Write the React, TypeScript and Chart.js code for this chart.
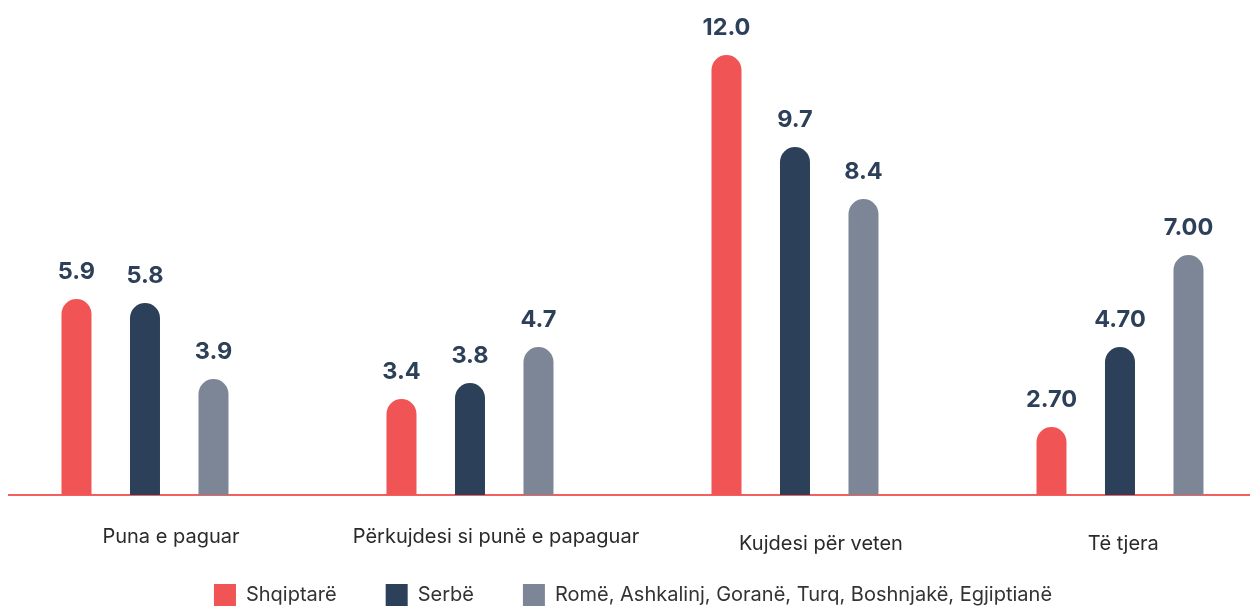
import React, { useEffect, useRef } from "react";
import { Chart, registerables } from "chart.js";

Chart.register(...registerables);

const categories = [
  "Puna e paguar",
  "Përkujdesi si punë e papaguar",
  "Kujdesi për veten",
  "Të tjera",
];
const seriesNames = [
  "Shqiptarë",
  "Serbë",
  "Romë, Ashkalinj, Goranë, Turq, Boshnjakë, Egjiptianë",
];
const shqiptare = [5.9, 3.4, 12.0, 2.7];
const serbe = [5.8, 3.8, 9.7, 4.7];
const rome = [3.9, 4.7, 8.4, 7.0];
const labelDecimals = [1, 1, 1, 2];

const COLORS = ["#F05454", "#2D4059", "#7D8697"];
const FONT = "Inter, 'Noto Sans', Arial, sans-serif";

// x-range chosen so that group centres fall where the reference puts them
const X_MIN = -0.4215;
const X_MAX = X_MIN + 1250 / 325;
const LABEL_SHIFT = [0.08, 0.08, 0.08, 0.01];
const LABEL_LINE_HEIGHT = [1.2, 1.2, 1.9, 1.9];

const valueLabels = {
  id: "valueLabels",
  afterDatasetsDraw(chart: any) {
    const ctx = chart.ctx;
    ctx.save();
    ctx.font = `700 23.5px ${FONT}`;
    ctx.fillStyle = "#2D4059";
    ctx.textAlign = "center";
    ctx.textBaseline = "alphabetic";
    chart.data.datasets.forEach((ds: any, di: number) => {
      const meta = chart.getDatasetMeta(di);
      meta.data.forEach((el: any, i: number) => {
        const v = ds.data[i].y;
        ctx.fillText(v.toFixed(labelDecimals[i]), el.x, el.y - 20);
      });
    });
    ctx.restore();
  },
};

export default function App() {
  const ref = useRef<HTMLCanvasElement | null>(null);

  useEffect(() => {
    if (!ref.current) return;
    const series = [shqiptare, serbe, rome];
    const chart = new Chart(ref.current, {
      type: "bar",
      data: {
        datasets: series.map((vals, si) => ({
          label: seriesNames[si],
          data: vals.map((v, i) => ({ x: i, y: v })),
          backgroundColor: COLORS[si],
          borderRadius: { topLeft: 15, topRight: 15, bottomLeft: 0, bottomRight: 0 },
          borderSkipped: "bottom",
          categoryPercentage: 0.6323,
          barPercentage: 0.438,
          xAxisID: "x",
        })),
      },
      options: {
        responsive: false,
        animation: false,
        layout: { padding: { top: 7, left: 0, right: 0, bottom: 0 } },
        plugins: {
          tooltip: { enabled: false },
          legend: {
            position: "bottom",
            labels: {
              boxWidth: 22,
              boxHeight: 22,
              padding: 49,
              color: "#333333",
              font: { family: FONT, size: 20 },
            },
          },
        },
        scales: {
          x: {
            type: "linear",
            offset: false,
            min: X_MIN,
            max: X_MAX,
            display: false,
            afterBuildTicks: (scale: any) => {
              scale.ticks = categories.map((_, i) => ({ value: i }));
            },
          },
          xLabels: {
            type: "linear",
            position: "bottom",
            offset: false,
            min: X_MIN,
            max: X_MAX,
            grid: { display: false, drawTicks: false, offset: false },
            border: { display: true, color: "#F26060", width: 2 },
            afterBuildTicks: (scale: any) => {
              scale.ticks = categories.map((_, i) => ({ value: i + LABEL_SHIFT[i] }));
            },
            afterFit: (scale: any) => {
              scale.height = 40;
              // let the labels run below the (shortened) axis box
              scale._computeLabelArea = () => undefined;
            },
            ticks: {
              autoSkip: false,
              maxRotation: 0,
              padding: 30,
              color: "#2A2A2A",
              font: (c: any) => ({
                family: FONT,
                size: 20,
                lineHeight: LABEL_LINE_HEIGHT[c.index] ?? 1.2,
              }),
              callback: (_v: any, index: number) => categories[index],
            },
          },
          y: {
            display: false,
            min: 1,
            max: 13,
          },
        },
      },
      plugins: [valueLabels],
    });
    return () => chart.destroy();
  }, []);

  return (
    <div style={{ width: 1250, height: 598, overflow: "hidden" }}>
      <canvas ref={ref} width={1250} height={608} style={{ display: "block" }} />
    </div>
  );
}
